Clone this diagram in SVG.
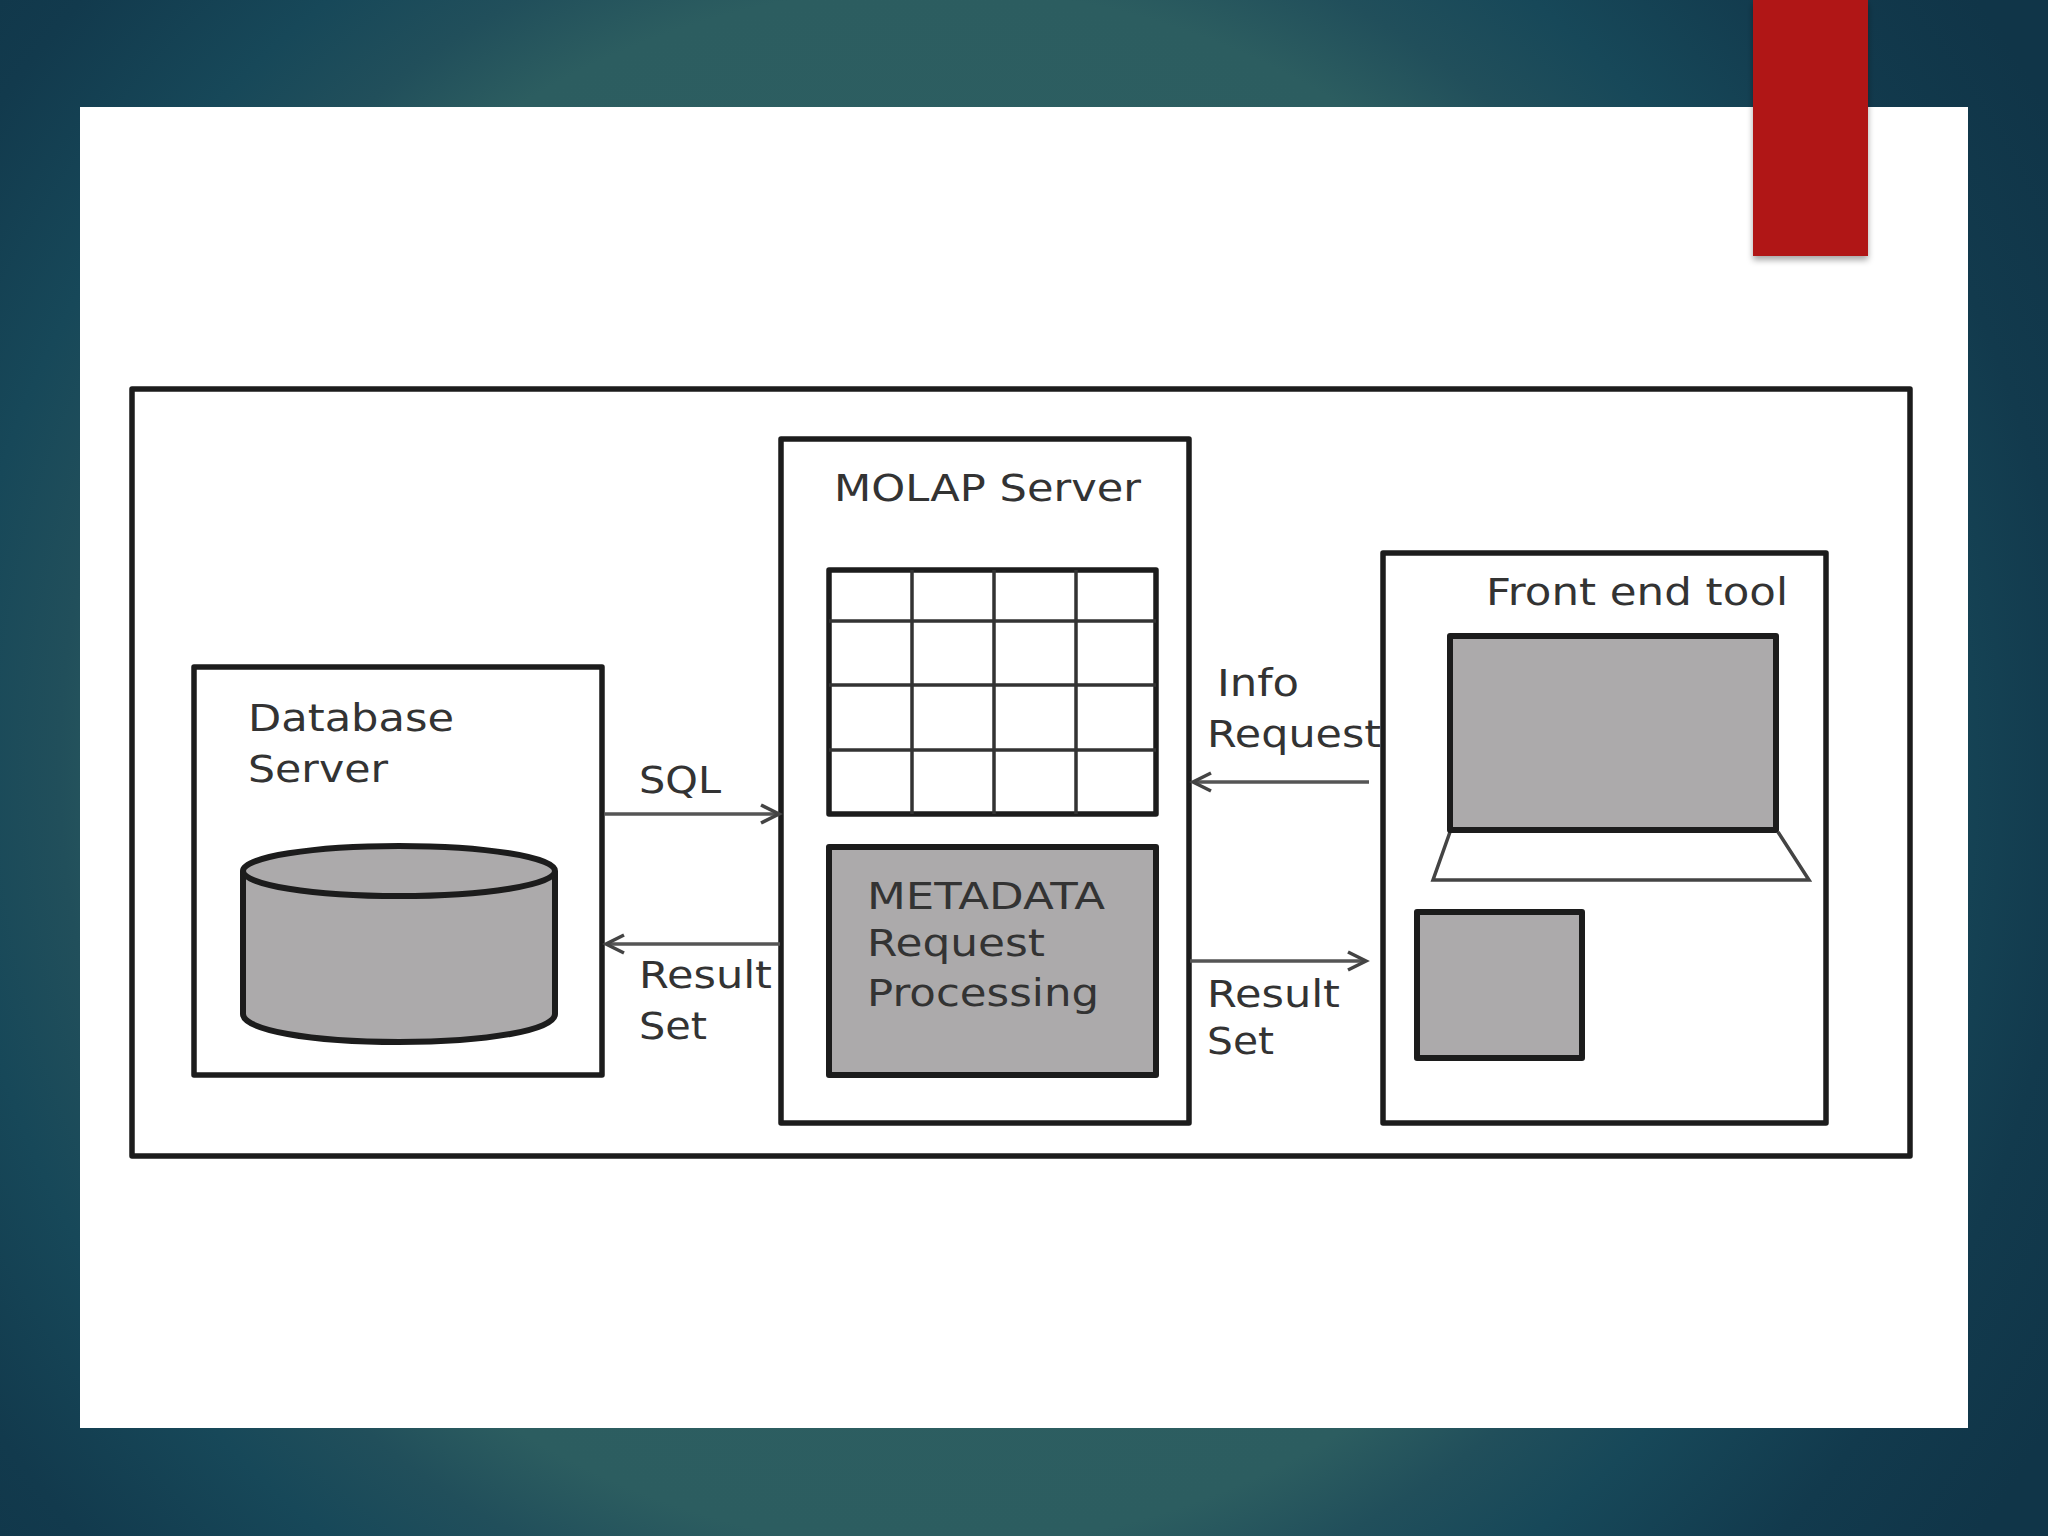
<svg xmlns="http://www.w3.org/2000/svg" width="2048" height="1536" viewBox="0 0 2048 1536">
<style>
.box{fill:#fff;stroke:#1c1c1c;stroke-width:5.5;stroke-linejoin:round}
.gray{fill:#acaaab;stroke:#1c1c1c;stroke-width:6;stroke-linejoin:round}
.grid{fill:none;stroke:#333;stroke-width:3.5}
.lbl{font-family:"DejaVu Sans",sans-serif;font-size:37px;fill:#333}
.conn{fill:none;stroke:#555;stroke-width:3.5}
.head{fill:none;stroke:#444;stroke-width:3.5}
</style>
<defs>
<radialGradient id="bg" gradientUnits="userSpaceOnUse" cx="930" cy="768" r="1300">
<stop offset="0" stop-color="#2f6164"/>
<stop offset="0.6" stop-color="#2c5d60"/>
<stop offset="0.67" stop-color="#214f5b"/>
<stop offset="0.75" stop-color="#174859"/>
<stop offset="0.88" stop-color="#123a4d"/>
<stop offset="1" stop-color="#103548"/>
</radialGradient>
<filter id="sh" x="-10%" y="-10%" width="120%" height="120%"><feDropShadow dx="0" dy="4" stdDeviation="3" flood-color="#000" flood-opacity="0.35"/></filter>
<marker id="arr" markerWidth="26" markerHeight="26" refX="20" refY="11" orient="auto" markerUnits="userSpaceOnUse"><path class="head" d="M2 2 L20 11 L2 20"/></marker>
</defs>
<rect id="background" width="2048" height="1536" fill="url(#bg)"/>
<rect id="slide" x="80" y="107" width="1888" height="1321" fill="#fff"/>
<rect id="ribbon" x="1753" y="0" width="115" height="256" fill="#b01512" filter="url(#sh)"/>

<rect id="outer" class="box" x="132" y="389" width="1778" height="767"/>

<g id="database-server">
<rect class="box" x="194" y="667" width="408" height="408"/>
<text class="lbl" x="248" y="731" textLength="206" lengthAdjust="spacingAndGlyphs">Database</text>
<text class="lbl" x="248" y="782" textLength="140" lengthAdjust="spacingAndGlyphs">Server</text>
<path class="gray" d="M243 871 V1014 C243 1030 310 1042 399 1042 C488 1042 555 1030 555 1014 V871"/>
<ellipse class="gray" cx="399" cy="871" rx="156" ry="25"/>
</g>

<g id="molap-server">
<rect class="box" x="781" y="439" width="408" height="684"/>
<text class="lbl" x="834" y="501" textLength="307" lengthAdjust="spacingAndGlyphs">MOLAP Server</text>
<g id="molap-grid">
<rect class="box" x="829" y="570" width="327" height="244"/>
<path class="grid" d="M912 570V814M994 570V814M1076 570V814M829 621H1156M829 685H1156M829 750H1156"/>
</g>
<g id="metadata">
<rect class="gray" x="829" y="847" width="327" height="228"/>
<text class="lbl" x="867" y="909" textLength="238" lengthAdjust="spacingAndGlyphs">METADATA</text>
<text class="lbl" x="867" y="956" textLength="178" lengthAdjust="spacingAndGlyphs">Request</text>
<text class="lbl" x="867" y="1006" textLength="232" lengthAdjust="spacingAndGlyphs">Processing</text>
</g>
</g>

<g id="front-end-tool">
<rect class="box" x="1383" y="553" width="443" height="570"/>
<text class="lbl" x="1486" y="605" textLength="302" lengthAdjust="spacingAndGlyphs">Front end tool</text>
<path d="M1450 832 L1433 880 H1809 L1778 832" fill="#fff" stroke="#444" stroke-width="3.5"/>
<rect class="gray" x="1450" y="636" width="326" height="194"/>
<rect class="gray" x="1417" y="912" width="165" height="146"/>
</g>

<g id="connectors">
<path class="conn" marker-end="url(#arr)" d="M605 814 H779"/>
<path class="conn" marker-end="url(#arr)" d="M780 944 H606"/>
<path class="conn" marker-end="url(#arr)" d="M1369 782 H1193"/>
<path class="conn" marker-end="url(#arr)" d="M1190 961 H1366"/>
</g>
<g id="connector-labels">
<text class="lbl" x="639" y="793" textLength="82" lengthAdjust="spacingAndGlyphs">SQL</text>
<text class="lbl" x="639" y="988" textLength="133" lengthAdjust="spacingAndGlyphs">Result</text>
<text class="lbl" x="639" y="1039" textLength="68" lengthAdjust="spacingAndGlyphs">Set</text>
<text class="lbl" x="1217" y="696" textLength="82" lengthAdjust="spacingAndGlyphs">Info</text>
<text class="lbl" x="1207" y="747" textLength="174" lengthAdjust="spacingAndGlyphs">Request</text>
<text class="lbl" x="1207" y="1007" textLength="133" lengthAdjust="spacingAndGlyphs">Result</text>
<text class="lbl" x="1207" y="1054" textLength="67" lengthAdjust="spacingAndGlyphs">Set</text>
</g>
</svg>
